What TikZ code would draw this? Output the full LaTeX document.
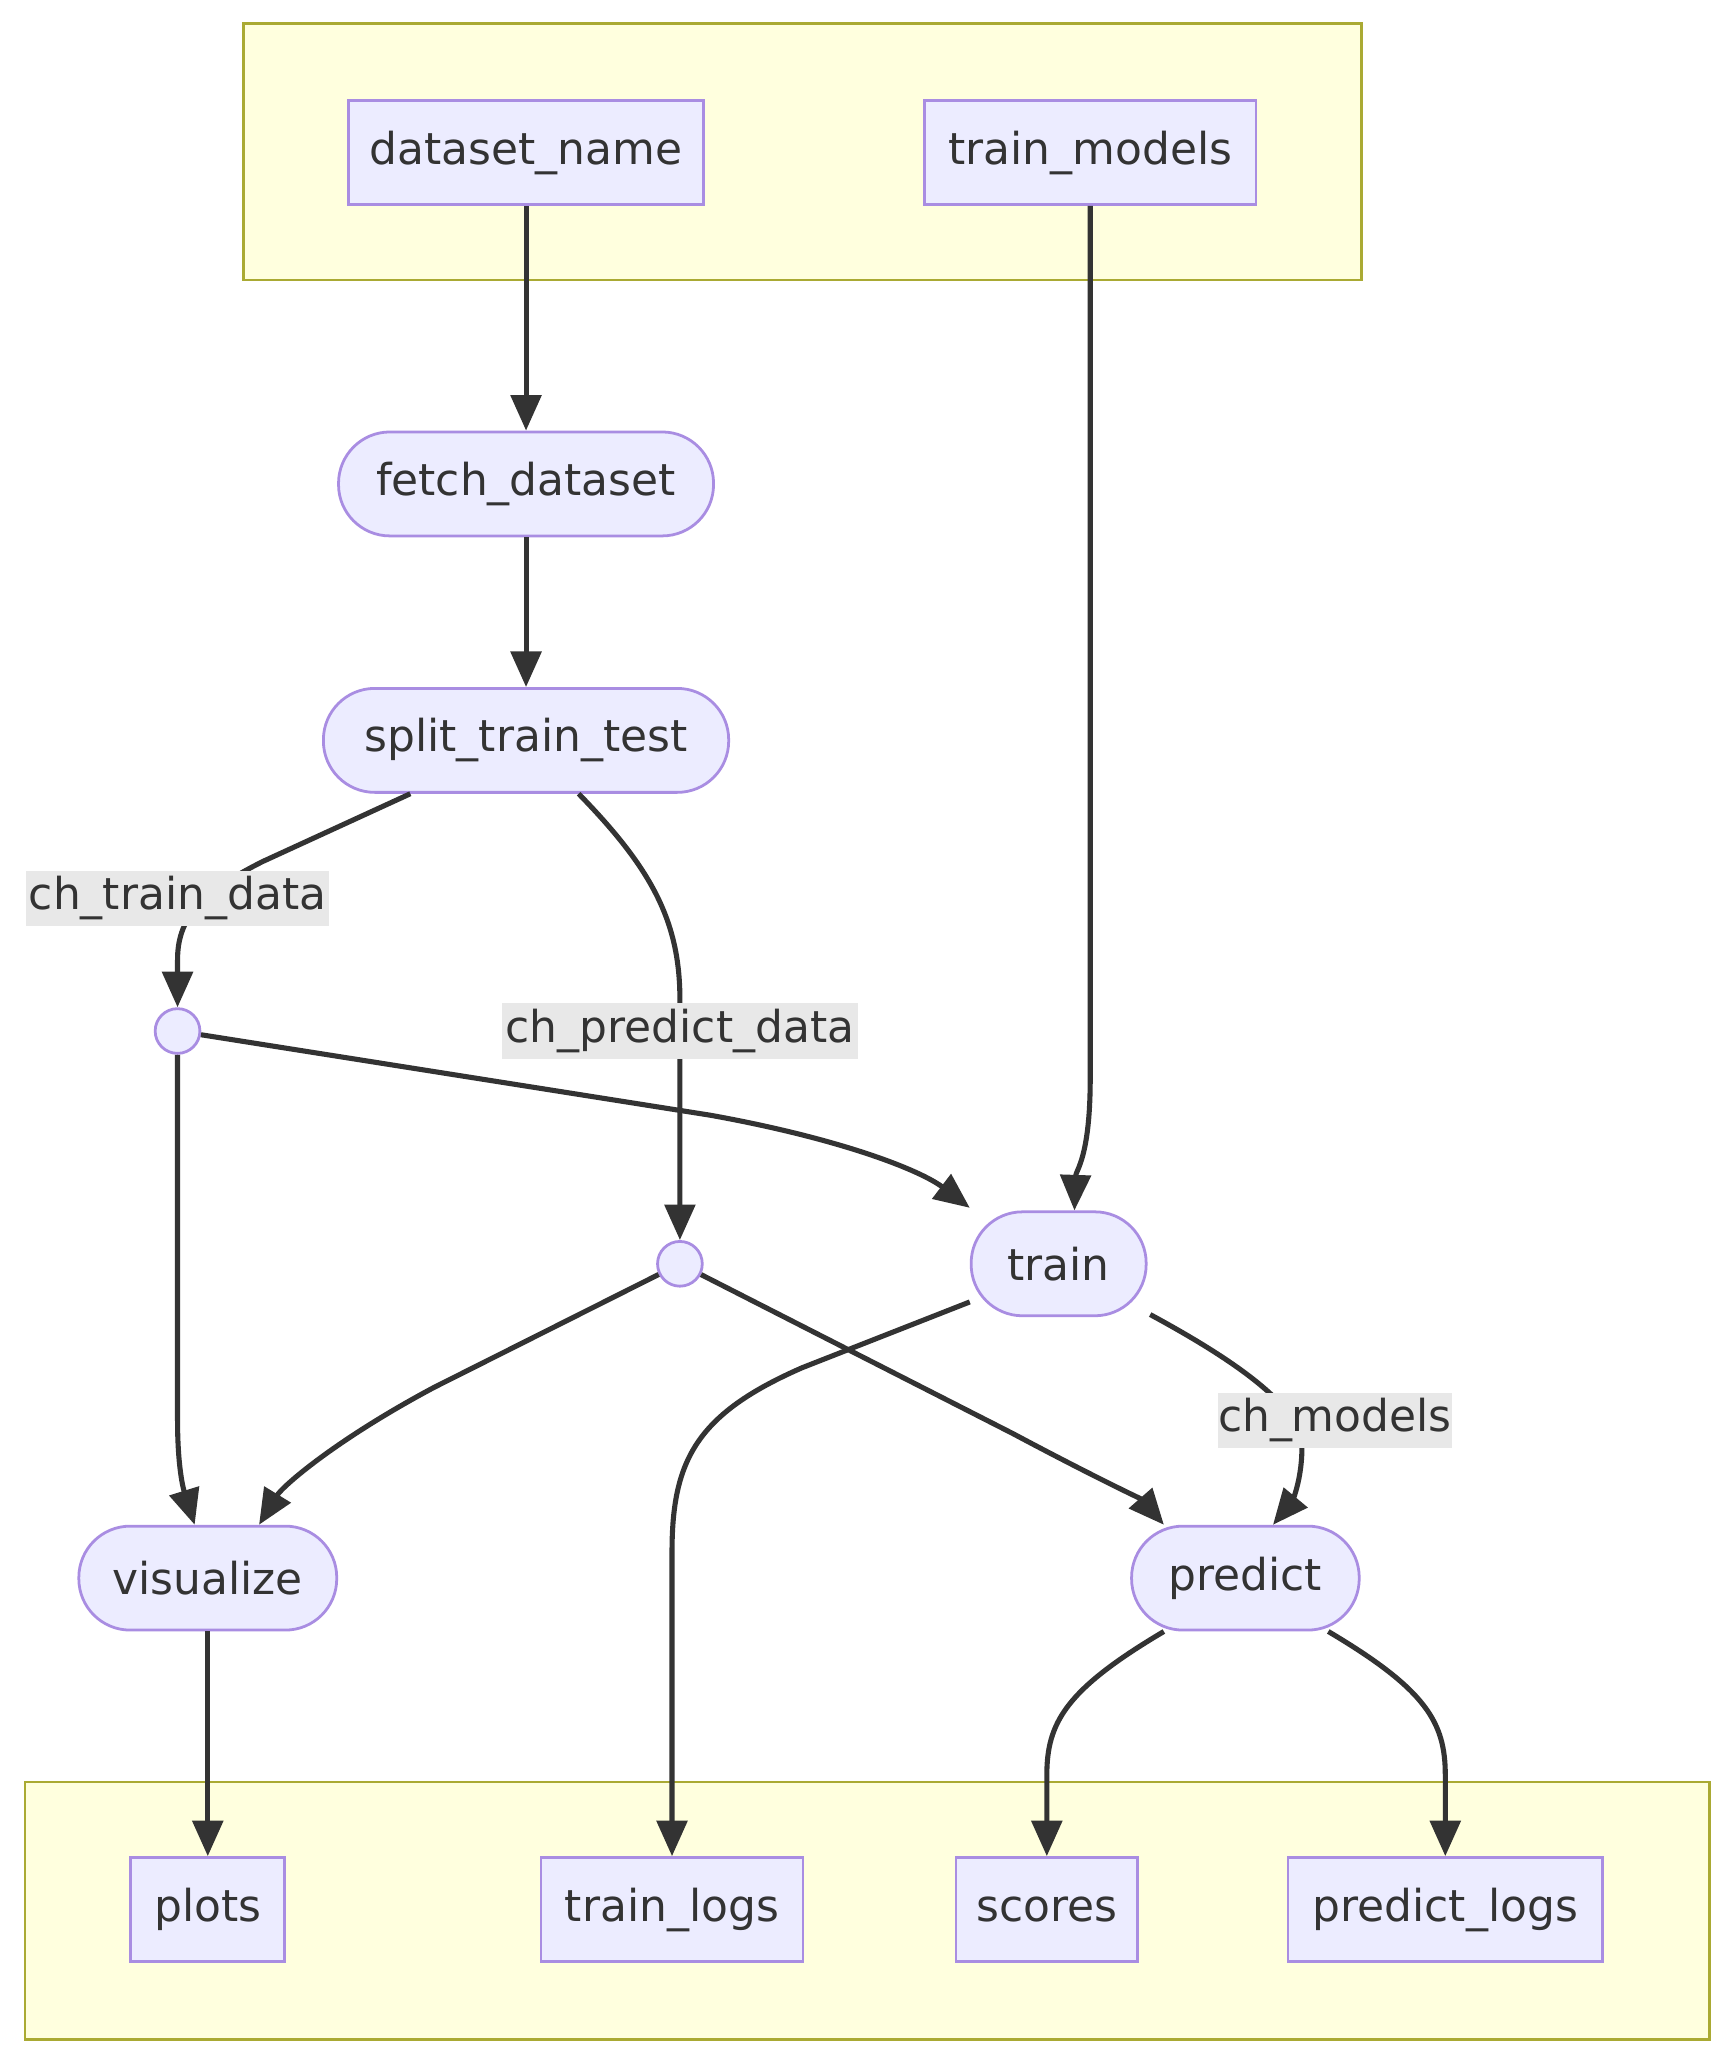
\documentclass[tikz,border=0pt]{standalone}
\usepackage{fontspec}
\setmainfont{DejaVu Sans}
\usetikzlibrary{arrows.meta,calc}
\definecolor{nodefill}{HTML}{ECECFF}
\definecolor{nodeline}{HTML}{9370DB}
\definecolor{clusterfill}{HTML}{FFFFDE}
\definecolor{clusterline}{HTML}{AAAA33}
\definecolor{edgecol}{HTML}{333333}
\definecolor{textcol}{HTML}{333333}
\definecolor{lblfill}{HTML}{E8E8E8}
\tikzset{
  cluster/.style={draw=clusterline, fill=clusterfill, line width=0.6pt},
  boxnode/.style={draw=nodeline!80, fill=nodefill, line width=0.6pt, rectangle, inner sep=0pt, minimum height=0.79cm, text=textcol},
  stadium/.style={boxnode, rounded corners=0.39cm},
  dotnode/.style={draw=nodeline!80, fill=nodefill, line width=0.6pt, circle, inner sep=0pt, minimum size=0.34cm},
  lbl/.style={fill=lblfill, inner sep=0pt, minimum height=0.42cm, text=textcol},
  edge/.style={draw=edgecol, line width=1.1pt, -{Triangle[length=0.27cm,width=0.23cm]}},
}
\begin{document}
\begin{tikzpicture}[x=0.01cm,y=-0.01cm, font=\fontsize{9.5}{11}\selectfont]
\useasboundingbox (0,0) rectangle (1320,1571);
\fill[white] (0,0) rectangle (1320,1571);
% clusters
\draw[cluster] (185,18) rectangle (1035,213);
\draw[cluster] (19,1355) rectangle (1300,1551);
% nodes
\node[boxnode, minimum width=2.70cm] (dn) at (400,116) {dataset\_name};
\node[boxnode, minimum width=2.52cm] (tm) at (829,116) {train\_models};
\node[stadium, minimum width=2.85cm] (fd) at (400,368) {fetch\_dataset};
\node[stadium, minimum width=3.08cm] (stt) at (400,563) {split\_train\_test};
\node[dotnode] (c1) at (135,784) {};
\node[dotnode] (c2) at (517,961) {};
\node[stadium, minimum width=1.33cm] (tr) at (805,961) {train};
\node[stadium, minimum width=1.96cm] (vis) at (158,1200) {visualize};
\node[stadium, minimum width=1.73cm] (pr) at (947,1200) {predict};
\node[boxnode, minimum width=1.17cm] (pl) at (158,1452) {plots};
\node[boxnode, minimum width=1.99cm] (tl) at (511,1452) {train\_logs};
\node[boxnode, minimum width=1.38cm] (sc) at (796,1452) {scores};
\node[boxnode, minimum width=2.39cm] (plg) at (1099,1452) {predict\_logs};
% label positions
\coordinate (lA) at (135,683);
\coordinate (lB) at (517,784);
\coordinate (lC) at (1015,1080);
% edges
\draw[edge] (dn.south) -- (fd.north);
\draw[edge] (fd.south) -- (stt.north);
\draw[edge] (tm.south) -- (829,820) .. controls (829,880) and (818,890) .. ($(tr.north)+(12,0)$);
\draw[edge] ($(stt.south)+(-88,0)$) -- (200,655) .. controls (150,680) and (135,700) .. (135,730) -- (c1.north);
\draw[edge] ($(stt.south)+(40,0)$) .. controls (495,660) and (517,700) .. (517,760) -- (c2.north);
\draw[edge] (c1) -- (540,848) .. controls (640,866) and (700,890) .. ($(tr.north west)+(0,-2)$);
\draw[edge] (c1) -- (135,1080) .. controls (135,1125) and (142,1140) .. ($(vis.north)+(-10,0)$);
\draw[edge] (c2) -- (330,1055) .. controls (255,1095) and (215,1130) .. ($(vis.north)+(39,0)$);
\draw[edge] (c2) -- (770,1090) .. controls (830,1122) and (868,1140) .. ($(pr.north)+(-62,0)$);
\draw[edge] ($(tr.west)+(0,29)$) -- (610,1040) .. controls (530,1075) and (511,1110) .. (511,1180) -- (tl.north);
\draw[edge] ($(tr.south east)+(2,-2)$) .. controls (940,1035) and (990,1070) .. (990,1100) .. controls (990,1130) and (980,1145) .. ($(pr.north)+(21,0)$);
\draw[edge] (vis.south) -- (pl.north);
\draw[edge] ($(pr.south)+(-62,0)$) .. controls (810,1285) and (796,1310) .. (796,1350) -- (sc.north);
\draw[edge] ($(pr.south)+(63,0)$) .. controls (1085,1285) and (1099,1310) .. (1099,1350) -- (plg.north);
% edge labels
\node[lbl, minimum width=2.30cm] (lblA) at (lA) {ch\_train\_data};
\node[lbl, minimum width=2.70cm] (lblB) at (lB) {ch\_predict\_data};
\node[lbl, minimum width=1.76cm] (lblC) at (lC) {ch\_models};
\end{tikzpicture}
\end{document}
